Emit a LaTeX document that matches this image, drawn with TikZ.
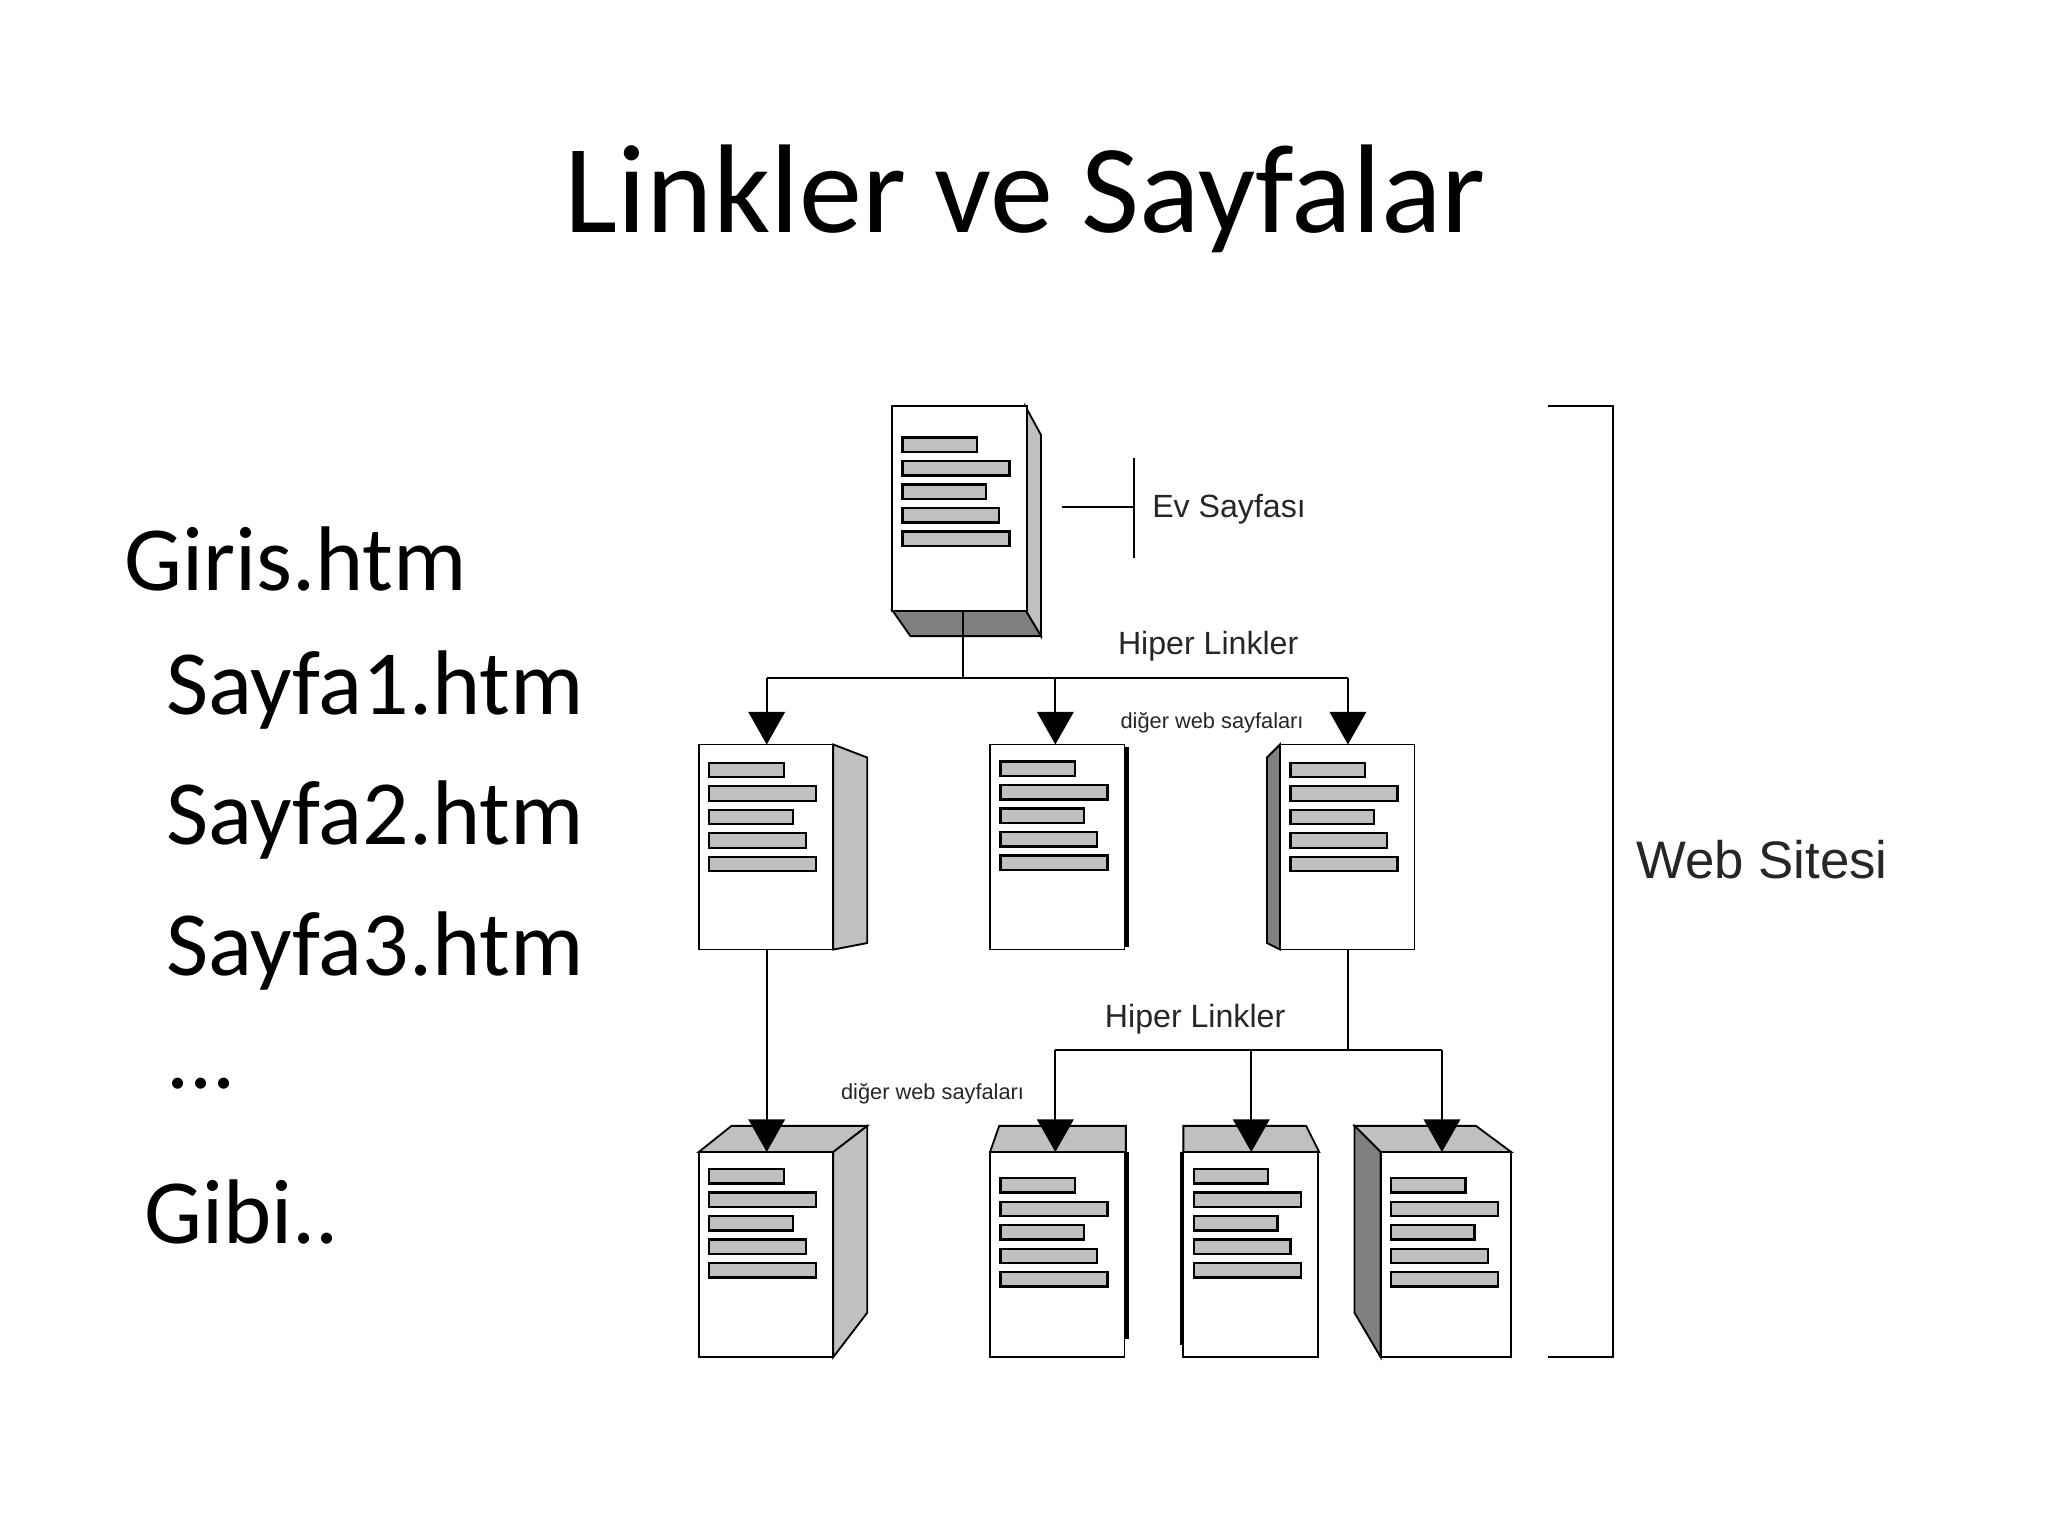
\documentclass[tikz,border=0pt]{standalone}
\usepackage{fontspec}
\setmainfont{Carlito}
\newfontfamily\arial{Liberation Sans}
\usetikzlibrary{arrows.meta,calc}
\definecolor{lg}{HTML}{C0C0C0}
\definecolor{dg}{HTML}{808080}
\tikzset{
  page/.style={draw,fill=white,line width=0.8pt,minimum width=2.06cm,minimum height=3.14cm,inner sep=0,outer sep=0},
  face/.style={draw,line width=0.8pt,fill=lg},
  dface/.style={draw,line width=0.8pt,fill=dg},
  link/.style={line width=0.8pt},
  arr/.style={link,-{Triangle[width=0.56cm,length=0.5cm]}},
  lbl/.style={font=\arial\fontsize{14pt}{16pt}\selectfont,text=black!85},
  slbl/.style={font=\arial\fontsize{9.5pt}{11pt}\selectfont,text=black!85},
  list/.style={font=\fontsize{40pt}{44pt}\selectfont,anchor=west,inner sep=0}
}
\newcommand{\bars}[2]{%
  \foreach \yy/\ll in {0/57,18/82,36/64,54/74,72/82}
    \draw[face,line width=1pt] ($(#1.north west)+(8,\yy+#2)$) rectangle ++(\ll,11);}
\begin{document}
\begin{tikzpicture}[x=0.02cm,y=-0.02cm]
\useasboundingbox[fill=white] (0,0) rectangle (1568,1176);
\node[font=\fontsize{55pt}{60pt}\selectfont] (title) at (785,152) {Linkler ve Sayfalar};
\node[list] (l1) at (95,428) {Giris.htm};
\node[list] (l2) at (127,528) {Sayfa1.htm};
\node[list] (l3) at (127,628) {Sayfa2.htm};
\node[list] (l4) at (127,728) {Sayfa3.htm};
\node[list] (l5) at (127,830) {...};
\node[list] (l6) at (110,928) {Gibi..};
% top doc
\draw[face] (785,311) -- (797,333) -- (797,487) -- (785,467) -- cycle;
\draw[dface] (683,467) -- (785,467) -- (797,487) -- (697,487) -- cycle;
\node[page,anchor=north west] (home) at (683,311) {};
\bars{home}{24}
% middle docs
\draw[face] (638,570) -- (664,580) -- (664,722) -- (638,727) -- cycle;
\node[page,anchor=north west] (m1) at (535,570) {};
\draw[line width=2pt] (863,572) -- (863,725);
\node[page,anchor=north west] (m2) at (758,570) {};
\draw[dface] (980,570) -- (970,580) -- (970,722) -- (980,727) -- cycle;
\node[page,anchor=north west] (m3) at (980,570) {};
\bars{m1}{14}\bars{m2}{13}\bars{m3}{14}
% bottom docs
\draw[face] (535,882) -- (560,862) -- (664,862) -- (638,882) -- cycle;
\draw[face] (638,882) -- (664,862) -- (664,1005) -- (638,1039) -- cycle;
\node[page,anchor=north west] (b1) at (535,882) {};
\draw[face] (758,882) -- (765,862) -- (862,862) -- (862,882) -- cycle;
\draw[line width=2pt] (863,882) -- (863,1025);
\node[page,anchor=north west] (b2) at (758,882) {};
\draw[face] (906,882) -- (906,862) -- (1000,862) -- (1010,882) -- cycle;
\draw[line width=2pt] (905,882) -- (905,1030);
\node[page,anchor=north west] (b3) at (906,882) {};
\draw[face] (1037,862) -- (1130,862) -- (1157,882) -- (1057,882) -- cycle;
\draw[dface] (1037,862) -- (1057,882) -- (1057,1039) -- (1037,1005) -- cycle;
\node[page,anchor=north west,minimum width=2cm] (b4) at (1057,882) {};
\bars{b1}{13}\bars{b2}{20}\bars{b3}{13}\bars{b4}{20}
% links
\coordinate (j1) at (737,519);
\draw[link] (737,467) -- (j1);
\draw[link] (587,519) -- (1032,519);
\draw[arr] (587,519) -- (587,570);
\draw[arr] (808,519) -- (808,570);
\draw[arr] (1032,519) -- (1032,570);
\node[lbl] (hl1) at (925,495) {Hiper Linkler};
\node[slbl] (dw1) at (928,553) {diğer web sayfaları};
\draw[arr] (587,727) -- (587,882);
\coordinate (j2) at (1032,804);
\draw[link] (1032,727) -- (j2);
\draw[link] (808,804) -- (1104,804);
\draw[arr] (808,804) -- (808,882);
\draw[arr] (958,804) -- (958,882);
\draw[arr] (1104,804) -- (1104,882);
\node[lbl] (hl2) at (915,780) {Hiper Linkler};
\node[slbl] (dw2) at (714,837) {diğer web sayfaları};
% Ev sayfasi
\coordinate (e1) at (813,388);
\coordinate (e2) at (868,388);
\draw[link] (e1) -- (e2);
\draw[link] (868,351) -- (868,427);
\node[lbl,anchor=west] (ev) at (876,390) {Ev Sayfası};
% bracket
\draw[link] (1185,311) -- (1235,311) -- (1235,1039) -- (1185,1039);
\node[font=\arial\fontsize{23pt}{26pt}\selectfont,text=black!85] (ws) at (1349,658) {Web Sitesi};
\end{tikzpicture}
\end{document}
